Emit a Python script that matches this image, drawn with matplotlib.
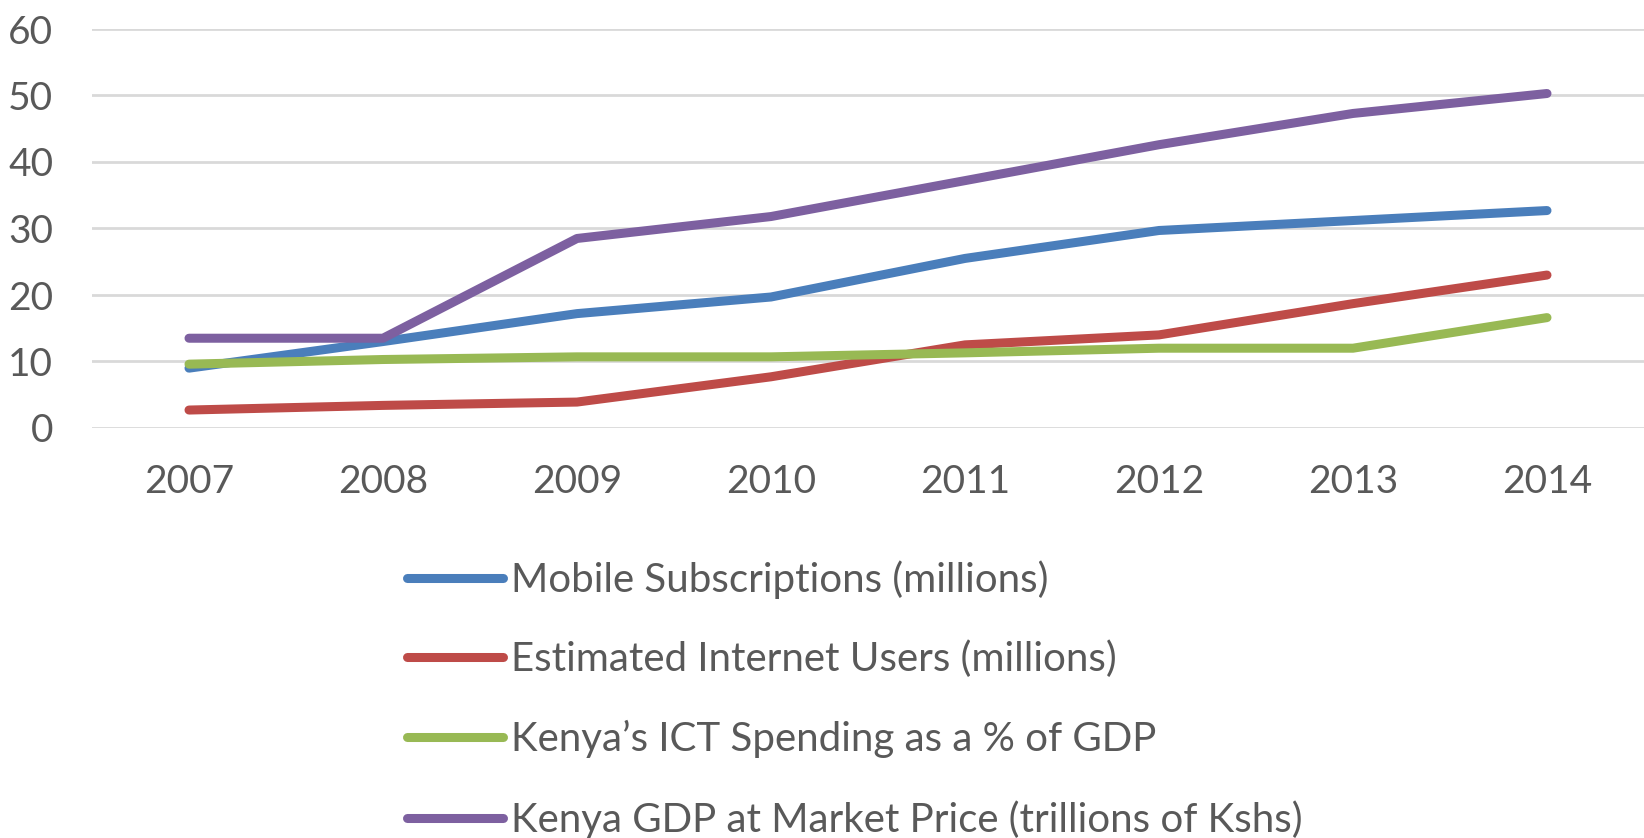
import matplotlib.pyplot as plt

years = ["2007", "2008", "2009", "2010", "2011", "2012", "2013", "2014"]
mobile = [9.0, 13.0, 17.2, 19.7, 25.5, 29.7, 31.2, 32.7]
internet = [2.7, 3.4, 3.9, 7.7, 12.5, 14.0, 18.7, 23.0]
ict = [9.6, 10.3, 10.7, 10.7, 11.3, 12.0, 12.0, 16.6]
gdp = [13.5, 13.5, 28.5, 31.8, 37.2, 42.6, 47.3, 50.3]

labels = ["Mobile Subscriptions (millions)",
          "Estimated Internet Users (millions)",
          "Kenya\u2019s ICT Spending as a % of GDP",
          "Kenya GDP at Market Price (trillions of Kshs)"]
colors = ["#4A7EBB", "#BE4B48", "#98B954", "#7D60A0"]

plt.rcParams['font.family'] = ['Lato', 'DejaVu Sans']

fig = plt.figure(figsize=(16.44, 8.38), dpi=100)
ax = fig.add_axes([92/1644, 1 - 428/838, 1 - 92/1644, (428 - 29)/838])

x = range(len(years))
for vals, lab, c in zip([mobile, internet, ict, gdp], labels, colors):
	ax.plot(x, vals, color=c, lw=6.5, label=lab, solid_capstyle='round', solid_joinstyle='round')

ax.set_xlim(-0.5, 7.5)
ax.set_ylim(0, 60)
ax.set_yticks(range(0, 61, 10))
ax.set_xticks(list(x))
ax.set_xticklabels(years)
ax.yaxis.grid(True, color='#D9D9D9', lw=2)
ax.set_axisbelow(True)
for s in ax.spines.values():
	s.set_visible(False)
ax.tick_params(length=0, labelsize=28, labelcolor='#595959')
ax.tick_params(axis='y', pad=28)
ax.tick_params(axis='x', pad=26)

fig.legend(loc='upper left', bbox_to_anchor=(407/1644, 1 - 560/838), frameon=False,
	borderpad=0, borderaxespad=0, handlelength=2.38, handletextpad=0.2,
	labelspacing=1.04, fontsize=29, labelcolor='#595959')

plt.savefig("out.png")
